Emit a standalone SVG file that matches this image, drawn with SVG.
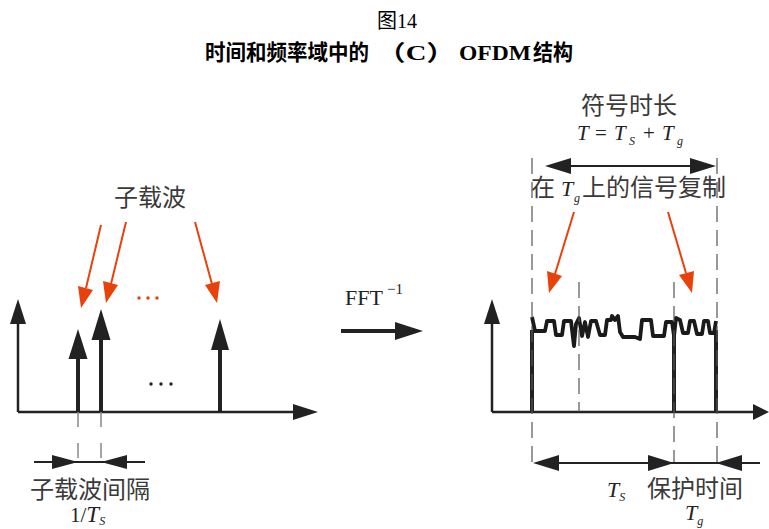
<svg xmlns="http://www.w3.org/2000/svg" width="769" height="529" viewBox="0 0 769 529">
<defs>
<style>
.ttl{font-family:"Liberation Serif","Noto Sans CJK SC",serif;fill:#000}
.sub{font-family:"Liberation Serif","Noto Sans CJK SC",serif;fill:#000;font-size:22px;font-weight:bold}
.lbl{font-family:"Liberation Serif","Noto Sans CJK SC",serif;font-size:24px;fill:#3a3a3a}
.it{font-family:"Liberation Serif",serif;font-style:italic;fill:#222}
.ax{stroke:#222;stroke-width:2.5;fill:none}
.spk{stroke:#222;stroke-width:4;fill:none}
.red{stroke:#e8420a;stroke-width:2;fill:none}
.dash{stroke:#555;stroke-width:1.2;stroke-dasharray:16,8;fill:none}
.dashg{stroke:#888;stroke-width:1.5;stroke-dasharray:15,16;fill:none}
.dim{stroke:#222;stroke-width:2;fill:none}
</style>
</defs>
<rect width="769" height="529" fill="#fff"/>
<g id="title">
<text class="ttl" x="397" y="28" font-size="20" text-anchor="middle">图14</text>
<text class="sub" x="205" y="60" textLength="164" lengthAdjust="spacingAndGlyphs">时间和频率域中的</text>
<text class="sub" x="377" y="60" textLength="78" lengthAdjust="spacingAndGlyphs">（C）</text>
<text class="sub" x="459" y="60" textLength="72" lengthAdjust="spacingAndGlyphs">OFDM</text>
<text class="sub" x="533" y="60" textLength="40" lengthAdjust="spacingAndGlyphs">结构</text>
</g>
<g id="left-plot">
<line class="ax" x1="18" y1="412" x2="18" y2="320"/>
<polygon points="18,299 10,324 26,324" fill="#222"/>
<line class="ax" x1="18" y1="412" x2="296" y2="412"/>
<polygon points="318,412 293,404 293,420" fill="#222"/>
<line class="spk" x1="78" y1="412" x2="78" y2="355"/>
<polygon points="78,329 68.5,359 87.5,359" fill="#222"/>
<line class="spk" x1="101" y1="412" x2="101" y2="336"/>
<polygon points="101,309 91.5,340 110.5,340" fill="#222"/>
<line class="spk" x1="220" y1="412" x2="220" y2="346"/>
<polygon points="220,319 211,350 229,350" fill="#222"/>
<g fill="#222"><circle cx="151" cy="384" r="1.7"/><circle cx="161" cy="384" r="1.7"/><circle cx="171" cy="384" r="1.7"/></g>
<g fill="#e8420a"><circle cx="139" cy="298" r="1.7"/><circle cx="148" cy="298" r="1.7"/><circle cx="157" cy="298" r="1.7"/></g>
</g>
<g id="subcarrier-label">
<text class="lbl" x="150" y="206" text-anchor="middle">子载波</text>
</g>
<g id="spacing-label">
<text class="lbl" x="90" y="498" text-anchor="middle">子载波间隔</text>
<text x="70" y="522" font-family="Liberation Serif,serif" font-size="21" fill="#222">1/<tspan font-style="italic" font-size="23">T</tspan><tspan font-style="italic" font-size="12" dy="3">S</tspan></text>
</g>
<g id="fft">
<text x="345" y="305" font-family="Liberation Serif,serif" font-size="22" fill="#222">FFT</text>
<text x="387" y="294" font-family="Liberation Serif,serif" font-size="15" fill="#222">−1</text>
<line x1="341" y1="331" x2="398" y2="331" stroke="#222" stroke-width="4"/>
<polygon points="423,331 395,322 395,340" fill="#222"/>
</g>
<g id="right-plot">
<line class="ax" x1="492" y1="412" x2="492" y2="320"/>
<polygon points="492,299 484,324 500,324" fill="#222"/>
<line class="ax" x1="492" y1="412" x2="758" y2="412"/>
<polygon points="769,412 753,404 753,420" fill="#222"/>
<line class="spk" x1="532" y1="412" x2="532" y2="330"/>
<line class="spk" x1="674" y1="412" x2="674" y2="330"/>
<line class="spk" x1="716" y1="412" x2="716" y2="330"/>
<path d="M532,317 L535,331 L545,331 L547,321 L554,321 L556,335 L562,335 L564,321 L571,321 L573,338 L574,346 L576,324 L579,318 L582,336 L585,322 L588,337 L591,321 L596,321 L600,335 L605,335 L607,320 L611,320 L612,316 L615,320 L618,316 L620,332 L623,337 L635,337 L640,339 L642,320 L651,320 L653,336 L664,336 L666,322 L672,322 L674,336 L676,318 L680,320 L683,333 L688,333 L690,321 L694,321 L697,334 L702,334 L704,321 L708,321 L710,333 L714,333 L716,321" stroke="#1a1a1a" stroke-width="3.8" fill="none" stroke-linejoin="round"/>
</g>
<g id="symbol-duration">
<text class="lbl" x="629" y="114" text-anchor="middle">符号时长</text>
<g font-family="Liberation Serif,serif" font-size="21" fill="#222">
<text x="577" y="140" font-style="italic">T</text>
<text x="595" y="140">=</text>
<text x="614" y="140" font-style="italic">T</text>
<text x="629" y="145" font-style="italic" font-size="12">S</text>
<text x="643" y="140">+</text>
<text x="662" y="140" font-style="italic">T</text>
<text x="677" y="145" font-style="italic" font-size="12">g</text>
</g>
</g>
<g id="copy-label">
<text class="lbl" x="531" y="196">在</text>
<text class="it" x="561" y="196" font-size="22">T</text>
<text class="it" x="574" y="202" font-size="12">g</text>
<text class="lbl" x="582" y="196">上的信号复制</text>
</g>
<g id="guard-label">
<text x="607" y="497" font-family="Liberation Serif,serif" font-size="22" font-style="italic" fill="#222">T<tspan font-size="12" dy="4">S</tspan></text>
<text class="lbl" x="647" y="497">保护时间</text>
<text x="685" y="520" font-family="Liberation Serif,serif" font-size="22" font-style="italic" fill="#222">T<tspan font-size="12" dy="5">g</tspan></text>
</g>
<g id="connectors">
<line class="red" x1="101" y1="225" x2="86" y2="288"/>
<polygon points="81,308 78,286 93,290" fill="#e8420a"/>
<line class="red" x1="126" y1="222" x2="111" y2="284"/>
<polygon points="106,303 103,281 118,285" fill="#e8420a"/>
<line class="red" x1="195" y1="222" x2="212" y2="284"/>
<polygon points="217,303 205,285 220,281" fill="#e8420a"/>
<line class="red" x1="574" y1="212" x2="555" y2="274"/>
<polygon points="549,293 547,271 562,276" fill="#e8420a"/>
<line class="red" x1="668" y1="212" x2="686" y2="273"/>
<polygon points="692,293 679,275 694,271" fill="#e8420a"/>
<line class="dashg" x1="78" y1="412" x2="78" y2="462"/>
<line class="dashg" x1="101" y1="412" x2="101" y2="462"/>
<line class="dim" x1="34" y1="462" x2="145" y2="462"/>
<polygon points="78,462 52,455 52,469" fill="#222"/>
<polygon points="101,462 127,455 127,469" fill="#222"/>
<line class="dash" x1="532" y1="158" x2="532" y2="462"/>
<line class="dash" x1="717" y1="158" x2="717" y2="462"/>
<line class="dash" x1="579" y1="282" x2="579" y2="412"/>
<line class="dash" x1="674" y1="282" x2="674" y2="462"/>
<line class="dim" x1="568" y1="166" x2="692" y2="166"/>
<polygon points="545,166 571,158 571,174" fill="#222"/>
<polygon points="716,166 690,158 690,174" fill="#222"/>
<line class="dim" x1="556" y1="463" x2="760" y2="463"/>
<polygon points="533,463 559,455 559,471" fill="#222"/>
<polygon points="674,463 648,455 648,471" fill="#222"/>
<polygon points="716,463 742,455 742,471" fill="#222"/>
</g>
</svg>
